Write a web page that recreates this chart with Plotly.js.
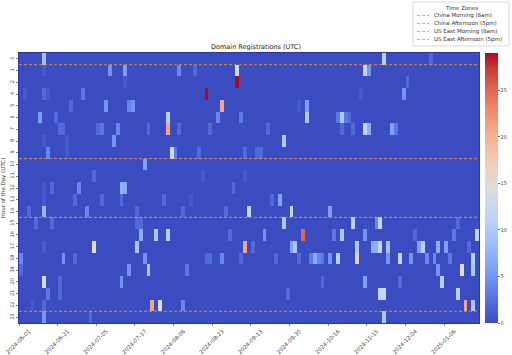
<!DOCTYPE html>
<html><head><meta charset="utf-8">
<script src="https://cdn.plot.ly/plotly-3.0.1.min.js"></script>
<style>html,body{margin:0;padding:0;background:#fff}#chart{width:512px;height:355px}</style>
</head><body><div id="chart"></div>
<script>
// UTC hours present in the data (hour 3 has no registrations)
const hours = [0,1,2,4,5,6,7,8,9,10,11,12,13,14,15,16,17,18,19,20,21,22,23];
// number of registration dates (categorical columns)
const nDays = 119;
// every 10th date label
const dateTicks = ['2024-06-01','2024-06-21','2024-07-05','2024-07-17','2024-08-06','2024-08-23',
                   '2024-09-13','2024-09-30','2024-10-16','2024-11-15','2024-12-04','2025-01-06'];
// time-zone reference lines (row edge in heatmap cell units)
const zoneNames = ['China Morning (8am)','China Afternoon (5pm)','US East Morning (8am)','US East Afternoon (5pm)'];
const zoneRowEdge = [1, 9, 14, 22];

// non-zero cells: date column index, UTC hour, count
const cellDay = [
  6,94,106,
  6,23,27,41,45,56,89,90,
  27,56,100,
  1,6,7,16,48,88,99,
  13,22,28,29,52,72,74,
  5,9,38,51,57,74,82,83,84,85,
  10,11,20,21,25,33,38,41,49,64,83,86,89,90,96,97,
  6,12,24,68,
  7,12,39,40,46,58,61,62,
  32,
  19,47,58,
  6,8,15,26,27,55,
  6,14,21,26,37,44,65,67,
  2,6,17,30,42,53,59,70,80,
  4,8,30,31,68,86,92,93,113,
  31,35,38,54,63,73,81,83,89,102,112,118,
  6,19,30,58,60,70,71,87,91,92,93,95,103,104,108,110,116,
  0,11,14,32,48,49,52,57,66,72,75,76,77,78,80,82,87,95,98,101,105,107,111,117,
  0,28,33,43,108,114,117,
  6,10,26,78,89,98,109,
  7,10,69,93,94,113,
  3,6,34,36,42,115,117,
  6,18,94
];
const cellHour = [
  0,0,0,
  1,1,1,1,1,1,1,1,
  2,2,2,
  4,4,4,4,4,4,4,
  5,5,5,5,5,5,5,
  6,6,6,6,6,6,6,6,6,6,
  7,7,7,7,7,7,7,7,7,7,7,7,7,7,7,7,
  8,8,8,8,
  9,9,9,9,9,9,9,9,
  10,
  11,11,11,
  12,12,12,12,12,12,
  13,13,13,13,13,13,13,13,
  14,14,14,14,14,14,14,14,14,
  15,15,15,15,15,15,15,15,15,
  16,16,16,16,16,16,16,16,16,16,16,16,
  17,17,17,17,17,17,17,17,17,17,17,17,17,17,17,17,17,
  18,18,18,18,18,18,18,18,18,18,18,18,18,18,18,18,18,18,18,18,18,18,18,18,
  19,19,19,19,19,19,19,
  20,20,20,20,20,20,20,
  21,21,21,21,21,21,
  22,22,22,22,22,22,22,
  23,23,23
];
const cellCount = [
  9,11,2,
  1,5,6,4,2,13,12,5,
  1,29,2,
  1,2,1,3,29,1,5,
  2,5,4,5,21,1,6,
  6,2,11,4,3,10,3,10,3,2,
  2,2,2,3,4,2,21,2,2,2,2,2,12,7,6,3,
  1,1,5,10,
  4,1,13,3,2,2,2,2,
  6,
  2,1,1,
  1,2,4,8,7,2,
  1,2,2,2,2,1,2,6,
  2,8,4,2,2,2,12,12,6,
  2,2,2,2,10,11,4,12,2,
  7,10,11,2,5,25,3,10,5,2,3,12,
  1,15,10,21,2,6,10,10,7,7,12,9,6,11,7,6,2,
  4,5,2,5,2,2,4,2,2,2,3,7,4,3,5,11,17,5,12,5,4,4,3,11,
  2,5,10,3,5,15,10,
  14,2,5,2,6,2,11,
  3,2,2,12,12,11,
  1,2,21,15,4,21,10,
  5,2,10
];

// build the full hour x date matrix (zeros where no registrations)
const z = hours.map(() => new Array(nDays).fill(0));
cellDay.forEach((d, i) => {
  const r = hours.indexOf(cellHour[i]);
  z[r][d] = cellCount[i];
});

const coolwarm = [
  [0.0000,'rgb(59,76,192)'],[0.0625,'rgb(77,104,215)'],[0.1250,'rgb(98,130,234)'],
  [0.1875,'rgb(119,154,247)'],[0.2500,'rgb(141,176,254)'],[0.3125,'rgb(163,194,255)'],
  [0.3750,'rgb(184,208,249)'],[0.4375,'rgb(204,217,238)'],[0.5000,'rgb(221,221,221)'],
  [0.5625,'rgb(236,211,197)'],[0.6250,'rgb(245,196,173)'],[0.6875,'rgb(247,177,148)'],
  [0.7500,'rgb(244,154,123)'],[0.8125,'rgb(236,127,99)'],[0.8750,'rgb(222,96,77)'],
  [0.9375,'rgb(203,62,56)'],[1.0000,'rgb(180,4,38)']
];

// plot geometry in pixels (for manual legend placement)
const W = 512, H = 355, L = 19, R = 33, T = 53, B = 32;
const pw = W - L - R, ph = H - T - B;
const px = x => (x - L) / pw;
const py = y => (H - B - y) / ph;

const traces = [{
  type: 'heatmap',
  z: z,
  x0: 0.5, dx: 1,
  y0: 0, dy: 1,
  colorscale: coolwarm,
  zmin: 0,
  colorbar: {
    x: px(485), xanchor: 'left', y: 0.5, yanchor: 'middle',
    len: 1, lenmode: 'fraction', thickness: 13, thicknessmode: 'pixels',
    outlinewidth: 0, ticks: 'outside', ticklen: 2, tickcolor: '#666',
    tickvals: [0,5,10,15,20,25], tickfont: {size: 5, color: '#444', family: 'DejaVu Sans'},
    xpad: 0, ypad: 0
  },
  hoverongaps: false
}];

const lineColor = 'rgba(255,150,30,0.85)';
zoneRowEdge.forEach((e, i) => {
  traces.push({
    type: 'scatter', mode: 'lines', name: zoneNames[i],
    x: [0, nDays], y: [e - 0.5, e - 0.5],
    line: {color: lineColor, width: 1, dash: '3px,2px'},
    showlegend: false, hoverinfo: 'skip'
  });
});

const shapes = [];
const annotations = [];
// legend box
shapes.push({type:'rect', xref:'paper', yref:'paper', x0: px(413), x1: px(509), y0: py(46), y1: py(2),
  line:{color:'#d9d9d9', width:1}, fillcolor:'rgba(255,255,255,0.9)', layer:'above'});
annotations.push({xref:'paper', yref:'paper', x: px(461), y: py(8), text:'Time Zones', showarrow:false,
  xanchor:'center', yanchor:'middle', font:{size:5.5, color:'#333', family:'DejaVu Sans'}});
zoneNames.forEach((n, i) => {
  const yy = 15.5 + 8 * i;
  shapes.push({type:'line', xref:'paper', yref:'paper', x0: px(417), x1: px(429), y0: py(yy), y1: py(yy),
    line:{color: lineColor, width:1, dash:'3px,2px'}, layer:'above'});
  annotations.push({xref:'paper', yref:'paper', x: px(432), y: py(yy), text: n, showarrow:false,
    xanchor:'left', yanchor:'middle', font:{size:5.5, color:'#333', family:'DejaVu Sans'}});
});

const layout = {
  width: W, height: H,
  margin: {l: L, r: R, t: T, b: B, pad: 0, autoexpand: false},
  paper_bgcolor: '#fff', plot_bgcolor: '#fff',
  font: {family: 'DejaVu Sans', color: '#333'},
  title: {text: 'Domain Registrations (UTC)', x: px(249), xanchor: 'center', y: 1 - 47/H, yanchor: 'middle',
          font: {size: 6.5, color: '#222', family: 'DejaVu Sans'}},
  xaxis: {
    range: [0, nDays], tickmode: 'array',
    tickvals: dateTicks.map((d, i) => i * 10), ticktext: dateTicks,
    tickangle: -45, tickfont: {size: 5.5, color: '#444'}, ticklabelshift: 10,
    ticks: 'outside', ticklen: 2, tickcolor: '#888',
    showgrid: false, zeroline: false, automargin: false,
    showline: true, mirror: true, linecolor: 'rgb(40,52,170)', linewidth: 1
  },
  yaxis: {
    range: [hours.length - 0.5, -0.5], tickmode: 'array',
    tickvals: hours.map((h, i) => i), ticktext: hours.map(String),
    tickangle: -90, tickfont: {size: 5, color: '#444'},
    ticks: 'outside', ticklen: 2, tickcolor: '#888',
    showgrid: false, zeroline: false, automargin: false,
    showline: true, mirror: true, linecolor: 'rgb(40,52,170)', linewidth: 1,
    title: {text: 'Hour of the Day (UTC)', font: {size: 5.5, color: '#333'}, standoff: 4}
  },
  shapes: shapes,
  annotations: annotations,
  showlegend: false
};

Plotly.newPlot('chart', traces, layout, {displayModeBar: false, staticPlot: true});
</script>
</body></html>
